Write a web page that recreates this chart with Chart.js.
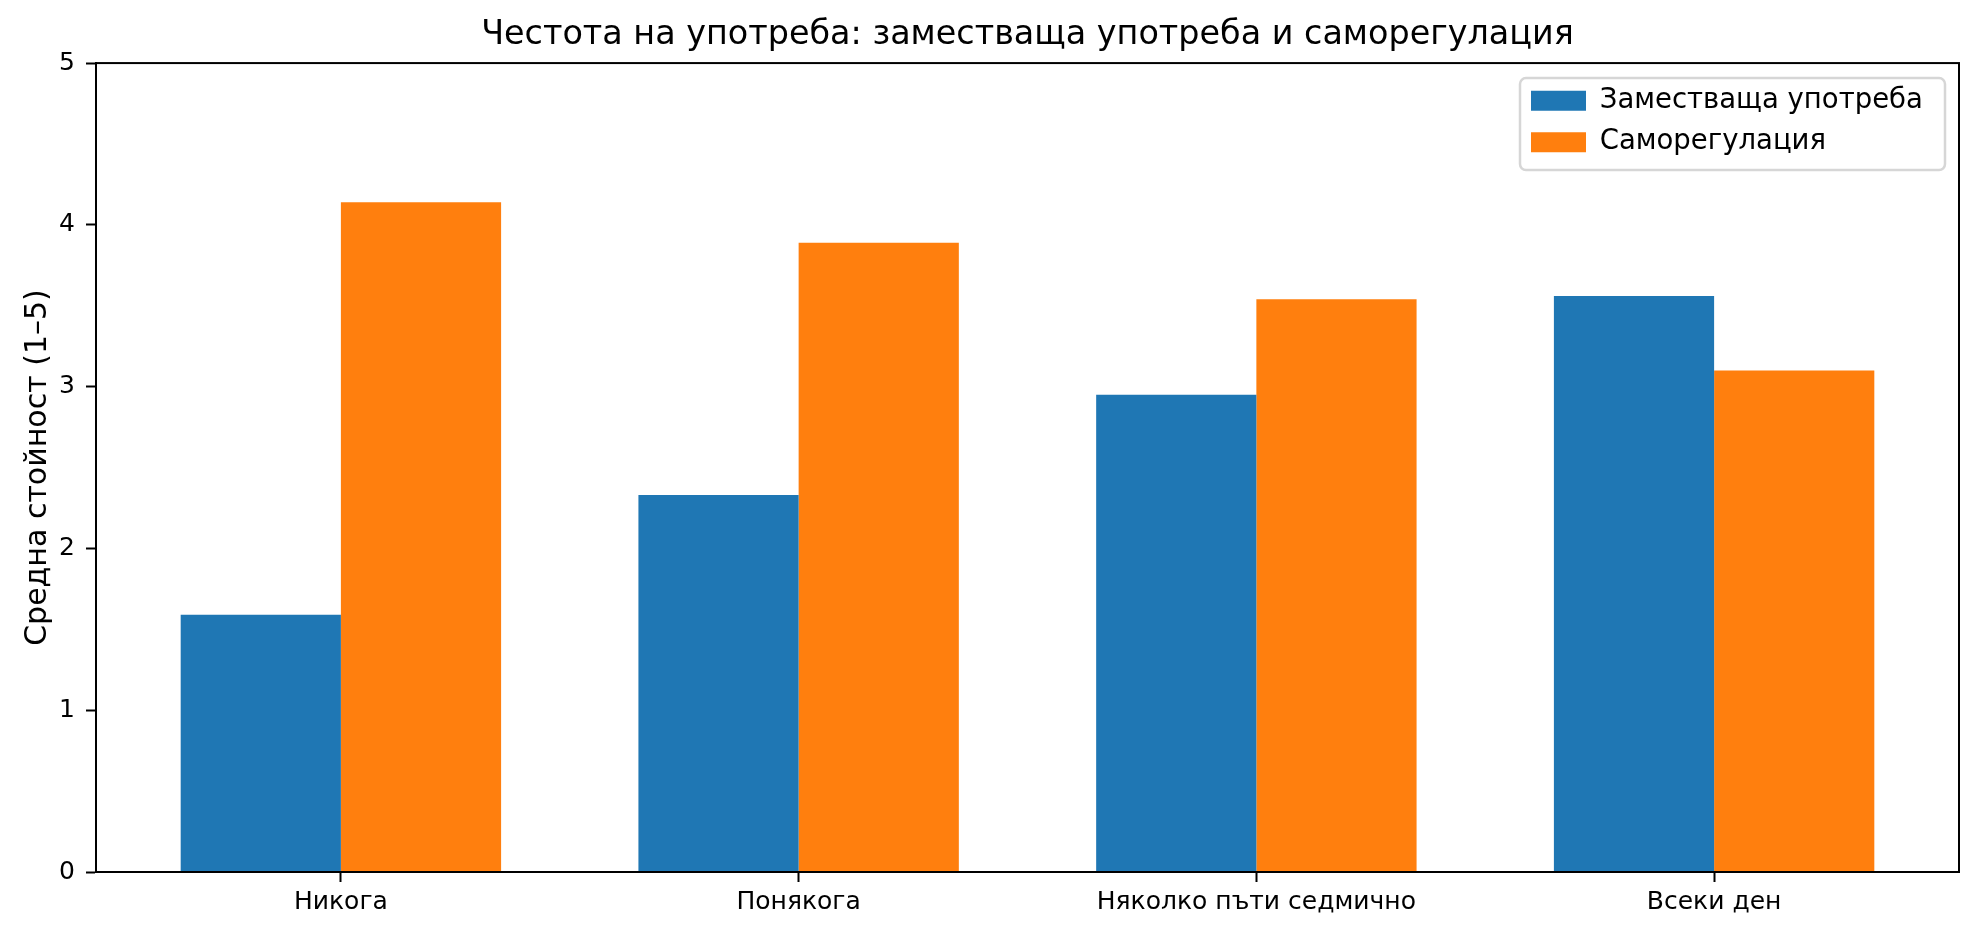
<!DOCTYPE html>
<html lang="bg">
<head>
<meta charset="utf-8">
<title>Честота на употреба</title>
<script src="https://cdn.jsdelivr.net/npm/chart.js@4.4.1/dist/chart.umd.min.js"></script>
<style>
  html, body { margin: 0; padding: 0; background: #fff; }
  #wrap { width: 1979px; height: 936px; }
</style>
</head>
<body>
<div id="wrap"><canvas id="usage-chart" width="1979" height="936"></canvas></div>
<script>
// data
const categories = ['Никога', 'Понякога', 'Няколко пъти седмично', 'Всеки ден'];
const substituteUse = [1.59, 2.33, 2.95, 3.56];
const selfRegulation = [4.14, 3.89, 3.54, 3.10];
const seriesNames = ['Заместваща употреба', 'Саморегулация'];
const yTicks = [0, 1, 2, 3, 4, 5];

const FONT = 'DejaVu Sans';
Chart.defaults.font.family = FONT;
Chart.defaults.color = '#000';

function toPoints(values) {
    return values.map((v, i) => ({ x: i, y: v }));
}

// draws the legend frame in the upper right corner and the box round the plot
const axesFrame = {
    id: 'axesFrame',
    beforeDraw(chart) {
        const area = chart.chartArea;
        const lg = chart.legend;
        const right = area.right - 14;
        const left = right - 425;
        const top = area.top + 15;
        const bottom = top + 92;

        // move the legend into the corner
        lg.left = left - 3;
        lg.top = top - 5;

        const ctx = chart.ctx;
        ctx.save();
        ctx.beginPath();
        ctx.roundRect(left, top, right - left, bottom - top, 6);
        ctx.fillStyle = 'rgba(255,255,255,0.8)';
        ctx.fill();
        ctx.lineWidth = 2.5;
        ctx.strokeStyle = '#d6d6d6';
        ctx.stroke();
        ctx.restore();
    },
    afterDraw(chart) {
        const area = chart.chartArea;
        const ctx = chart.ctx;
        ctx.save();
        ctx.lineWidth = 2;
        ctx.strokeStyle = '#000';
        ctx.strokeRect(area.left, area.top, area.right - area.left, area.bottom - area.top);
        ctx.restore();
    }
};

const ctx = document.getElementById('usage-chart').getContext('2d');
new Chart(ctx, {
    type: 'bar',
    data: {
        datasets: [{
            label: seriesNames[0],
            data: toPoints(substituteUse),
            backgroundColor: '#1f77b4',
            borderWidth: 0
        }, {
            label: seriesNames[1],
            data: toPoints(selfRegulation),
            backgroundColor: '#ff7f0e',
            borderWidth: 0
        }]
    },
    options: {
        responsive: false,
        animation: false,
        layout: {
            padding: { top: 0, right: 20, bottom: 0, left: 0 }
        },
        datasets: {
            bar: {
                categoryPercentage: 0.7,
                barPercentage: 1.0
            }
        },
        scales: {
            x: {
                type: 'linear',
                min: -0.535,
                max: 3.535,
                offset: false,
                afterBuildTicks: (scale) => {
                    scale.ticks = categories.map((c, i) => ({ value: i }));
                },
                afterFit: (scale) => { scale.height = 64; },
                ticks: {
                    callback: (value) => categories[value],
                    font: { size: 25 },
                    color: '#000',
                    padding: 5,
                    maxRotation: 0,
                    autoSkip: false
                },
                grid: {
                    offset: false,
                    drawOnChartArea: false,
                    drawTicks: true,
                    tickLength: 10,
                    tickWidth: 2,
                    color: '#000'
                },
                border: { display: true, color: '#000', width: 2 }
            },
            y: {
                min: 0,
                max: 5,
                afterBuildTicks: (scale) => {
                    scale.ticks = yTicks.map(v => ({ value: v }));
                },
                afterFit: (scale) => { scale.width = 96; },
                ticks: {
                    font: { size: 25 },
                    color: '#000',
                    padding: 11
                },
                grid: {
                    drawOnChartArea: false,
                    drawTicks: true,
                    tickLength: 10,
                    tickWidth: 2,
                    color: '#000'
                },
                border: { display: true, color: '#000', width: 2 },
                title: {
                    display: true,
                    text: 'Средна стойност (1–5)',
                    font: { size: 30 },
                    color: '#000',
                    padding: { top: 20, bottom: 0 }
                }
            }
        },
        plugins: {
            title: {
                display: true,
                fullSize: false,  // centre the title over the plot area
                text: 'Честота на употреба: заместваща употреба и саморегулация',
                font: { size: 33.4, weight: 'normal' },
                color: '#000',
                padding: { top: 15, bottom: 8 }
            },
            legend: {
                position: 'chartArea',
                align: 'start',
                labels: {
                    boxWidth: 55,
                    boxHeight: 20,
                    padding: 14,
                    color: '#000',
                    font: { size: 27.5 }
                }
            },
            tooltip: { enabled: false }
        }
    },
    plugins: [axesFrame]
});
</script>
</body>
</html>
